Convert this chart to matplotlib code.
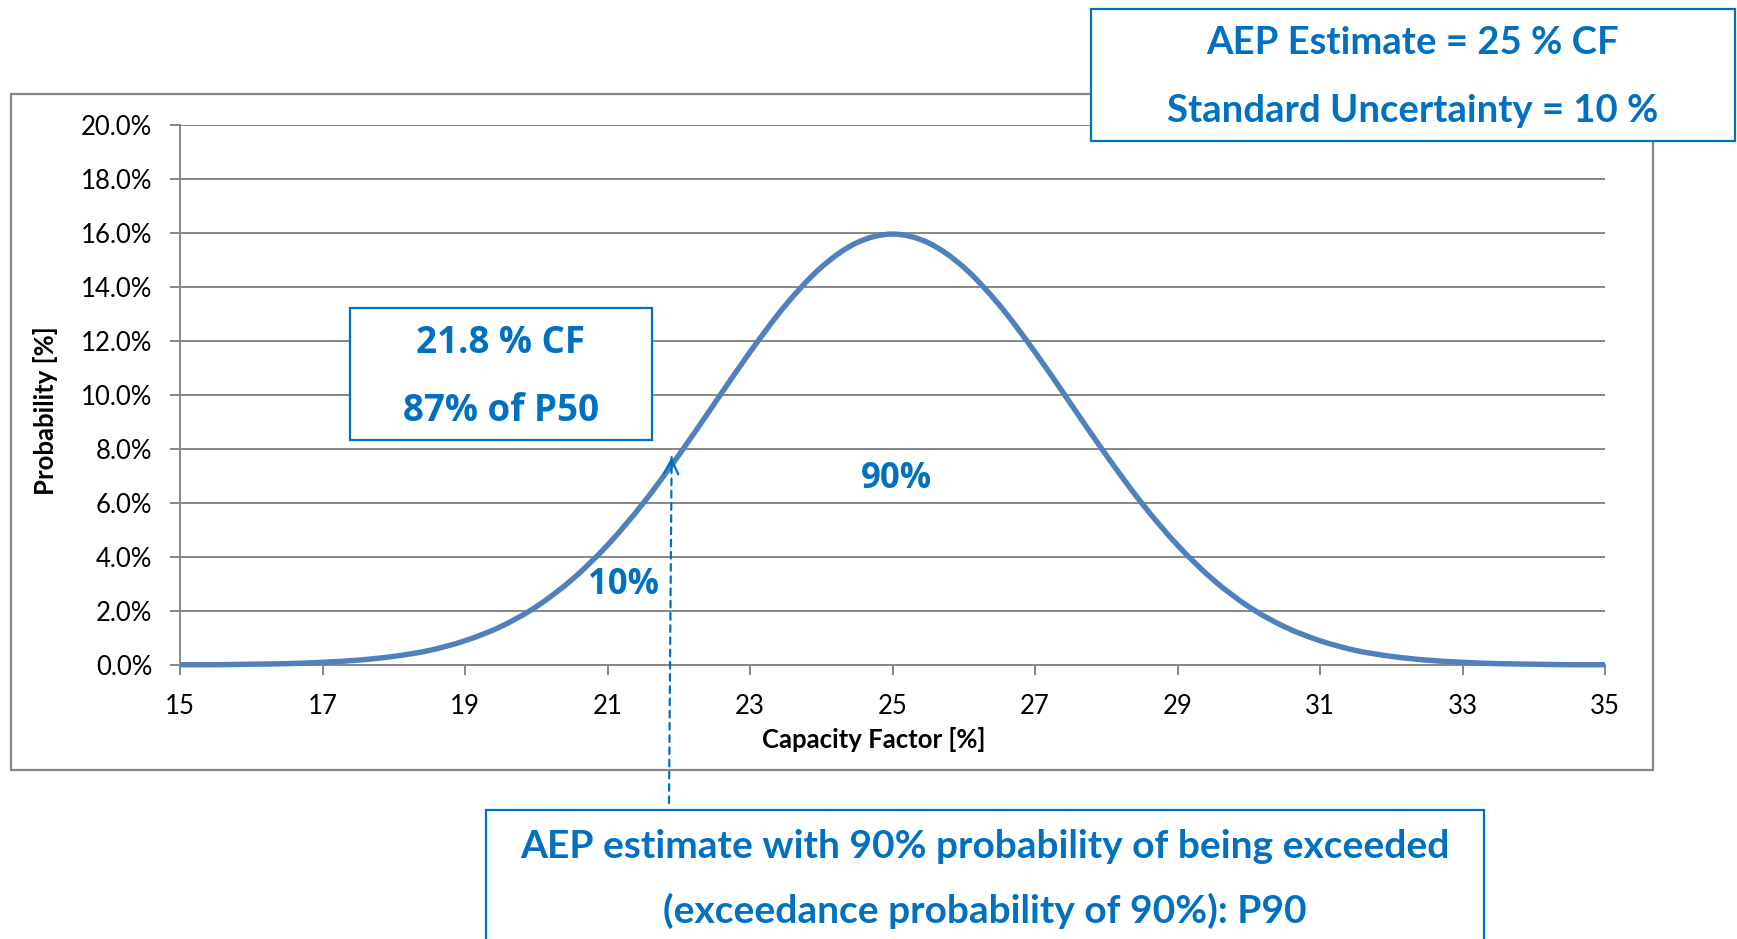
import matplotlib.pyplot as plt
from matplotlib.patches import Rectangle, PathPatch
from matplotlib.path import Path

# capacity factor [%] and probability [%]
cf = [15.0, 15.5, 16.0, 16.5, 17.0, 17.5, 18.0, 18.5, 19.0, 19.5,
      20.0, 20.5, 21.0, 21.5, 22.0, 22.5, 23.0, 23.5, 24.0, 24.5,
      25.0, 25.5, 26.0, 26.5, 27.0, 27.5, 28.0, 28.5, 29.0, 29.5,
      30.0, 30.5, 31.0, 31.5, 32.0, 32.5, 33.0, 33.5, 34.0, 34.5, 35.0]
prob = [0.01, 0.01, 0.03, 0.05, 0.10, 0.18, 0.32, 0.54, 0.90, 1.42,
        2.16, 3.16, 4.44, 5.99, 7.77, 9.68, 11.59, 13.33, 14.73, 15.64,
        15.96, 15.64, 14.73, 13.33, 11.59, 9.68, 7.77, 5.99, 4.44, 3.16,
        2.16, 1.42, 0.90, 0.54, 0.32, 0.18, 0.10, 0.05, 0.03, 0.01, 0.01]
x_ticks = list(range(15, 36, 2))
y_ticks = [0, 2, 4, 6, 8, 10, 12, 14, 16, 18, 20]

# P90 point marked by the arrow
p90_x, p90_y = 21.9, 7.7

BLUE = '#0070C0'
GRAY = '#878787'
W, H = 1737, 939


def fx(px):
    return px / W


def fy(py):
    return 1 - py / H


def box(fig, x0, y0, x1, y1):
    r = Rectangle((fx(x0), fy(y1)), fx(x1 - x0), (y1 - y0) / H,
                  transform=fig.transFigure, facecolor='white',
                  edgecolor=BLUE, linewidth=1.6, zorder=5, clip_on=False)
    fig.patches.append(r)


def smooth_path(xs, ys):
    # Excel-style smoothed line: cubic Bezier segments through the points
    verts = [(xs[0], ys[0])]
    codes = [Path.MOVETO]
    n = len(xs)
    for i in range(n - 1):
        x0, y0 = xs[max(i - 1, 0)], ys[max(i - 1, 0)]
        x1, y1 = xs[i], ys[i]
        x2, y2 = xs[i + 1], ys[i + 1]
        x3, y3 = xs[min(i + 2, n - 1)], ys[min(i + 2, n - 1)]
        verts += [(x1 + (x2 - x0) / 6, y1 + (y2 - y0) / 6),
                  (x2 - (x3 - x1) / 6, y2 - (y3 - y1) / 6),
                  (x2, y2)]
        codes += [Path.CURVE4] * 3
    return Path(verts, codes)


fig = plt.figure(figsize=(17.37, 9.39), dpi=100)

# outer chart frame
fig.patches.append(Rectangle((fx(11), fy(770)), fx(1653 - 11), (770 - 94) / H,
                             transform=fig.transFigure, facecolor='none',
                             edgecolor=GRAY, linewidth=1.6, zorder=0))

ax = fig.add_axes([fx(180), fy(665), fx(1605 - 180), (665 - 125) / H])
ax.add_patch(PathPatch(smooth_path(cf, prob), facecolor='none',
                       edgecolor='#4F81BD', linewidth=3.9, zorder=3,
                       clip_on=False, capstyle='butt'))
ax.set_xlim(15, 35)
ax.set_ylim(0, 20)
ax.set_xticks(x_ticks)
ax.set_yticks(y_ticks)
ax.set_yticklabels([f'{v:.1f}%' for v in y_ticks])
ax.grid(axis='y', color=GRAY, linewidth=1.4)
ax.set_axisbelow(True)
for s in ['top', 'right']:
    ax.spines[s].set_visible(False)
for s in ['left', 'bottom']:
    ax.spines[s].set_color(GRAY)
    ax.spines[s].set_linewidth(1.4)
ax.tick_params(axis='both', color=GRAY, width=1.4, length=7, labelsize=18.5)
ax.tick_params(axis='y', pad=13)
ax.tick_params(axis='x', pad=14)
for lab in ax.get_xticklabels() + ax.get_yticklabels():
    lab.set_fontfamily('Lato')

fig.text(fx(874), fy(739), 'Capacity Factor [%]', ha='center', va='center',
         fontsize=18.5, fontweight='bold', family='Lato')
fig.text(fx(46), fy(411), 'Probability [%]', ha='center', va='center',
         rotation=90, fontsize=18.5, fontweight='bold', family='Lato')

# P90 arrow: dashed shaft plus a solid open head
ax.annotate('', xy=(p90_x, p90_y), xycoords='data',
            xytext=(fx(669), fy(803)), textcoords='figure fraction',
            arrowprops=dict(arrowstyle='-', color=BLUE, lw=1.6,
                            linestyle=(0, (3, 2.5)),
                            shrinkA=0, shrinkB=0),
            annotation_clip=False, zorder=4)
ax.annotate('', xy=(p90_x, p90_y), xycoords='data',
            xytext=(p90_x - 0.004, p90_y - 0.3), textcoords='data',
            arrowprops=dict(arrowstyle='->', color=BLUE, lw=1.6,
                            mutation_scale=26, shrinkA=0, shrinkB=0),
            annotation_clip=False, zorder=4)

ax.text(21.22, 2.95, '10%', ha='center', va='center', color=BLUE,
        fontsize=25, fontweight='bold', family='Open Sans', zorder=4)
ax.text(25.05, 6.9, '90%', ha='center', va='center', color=BLUE,
        fontsize=25, fontweight='bold', family='Open Sans', zorder=4)

# text boxes
box(fig, 1091, 9, 1735, 141)
fig.text(fx(1413), fy(43), 'AEP Estimate = 25 % CF', ha='center', va='center',
         color=BLUE, fontsize=27.5, fontweight='bold', family='Lato', zorder=6)
fig.text(fx(1413), fy(111), 'Standard Uncertainty = 10 %', ha='center',
         va='center', color=BLUE, fontsize=27.5, fontweight='bold',
         family='Lato', zorder=6)

box(fig, 350, 308, 652, 440)
fig.text(fx(501), fy(343), '21.8 % CF', ha='center', va='center', color=BLUE,
         fontsize=26.5, fontweight='bold', family='Open Sans', zorder=6)
fig.text(fx(501), fy(411), '87% of P50', ha='center', va='center', color=BLUE,
         fontsize=26.5, fontweight='bold', family='Open Sans', zorder=6)

box(fig, 486, 810, 1484, 960)
fig.text(fx(985), fy(846), 'AEP estimate with 90% probability of being exceeded',
         ha='center', va='center', color=BLUE, fontsize=28, fontweight='bold',
         family='Lato', zorder=6)
fig.text(fx(985), fy(911), '(exceedance probability of 90%): P90',
         ha='center', va='center', color=BLUE, fontsize=28, fontweight='bold',
         family='Lato', zorder=6)

fig.savefig('out.png', dpi=100, facecolor='white')
